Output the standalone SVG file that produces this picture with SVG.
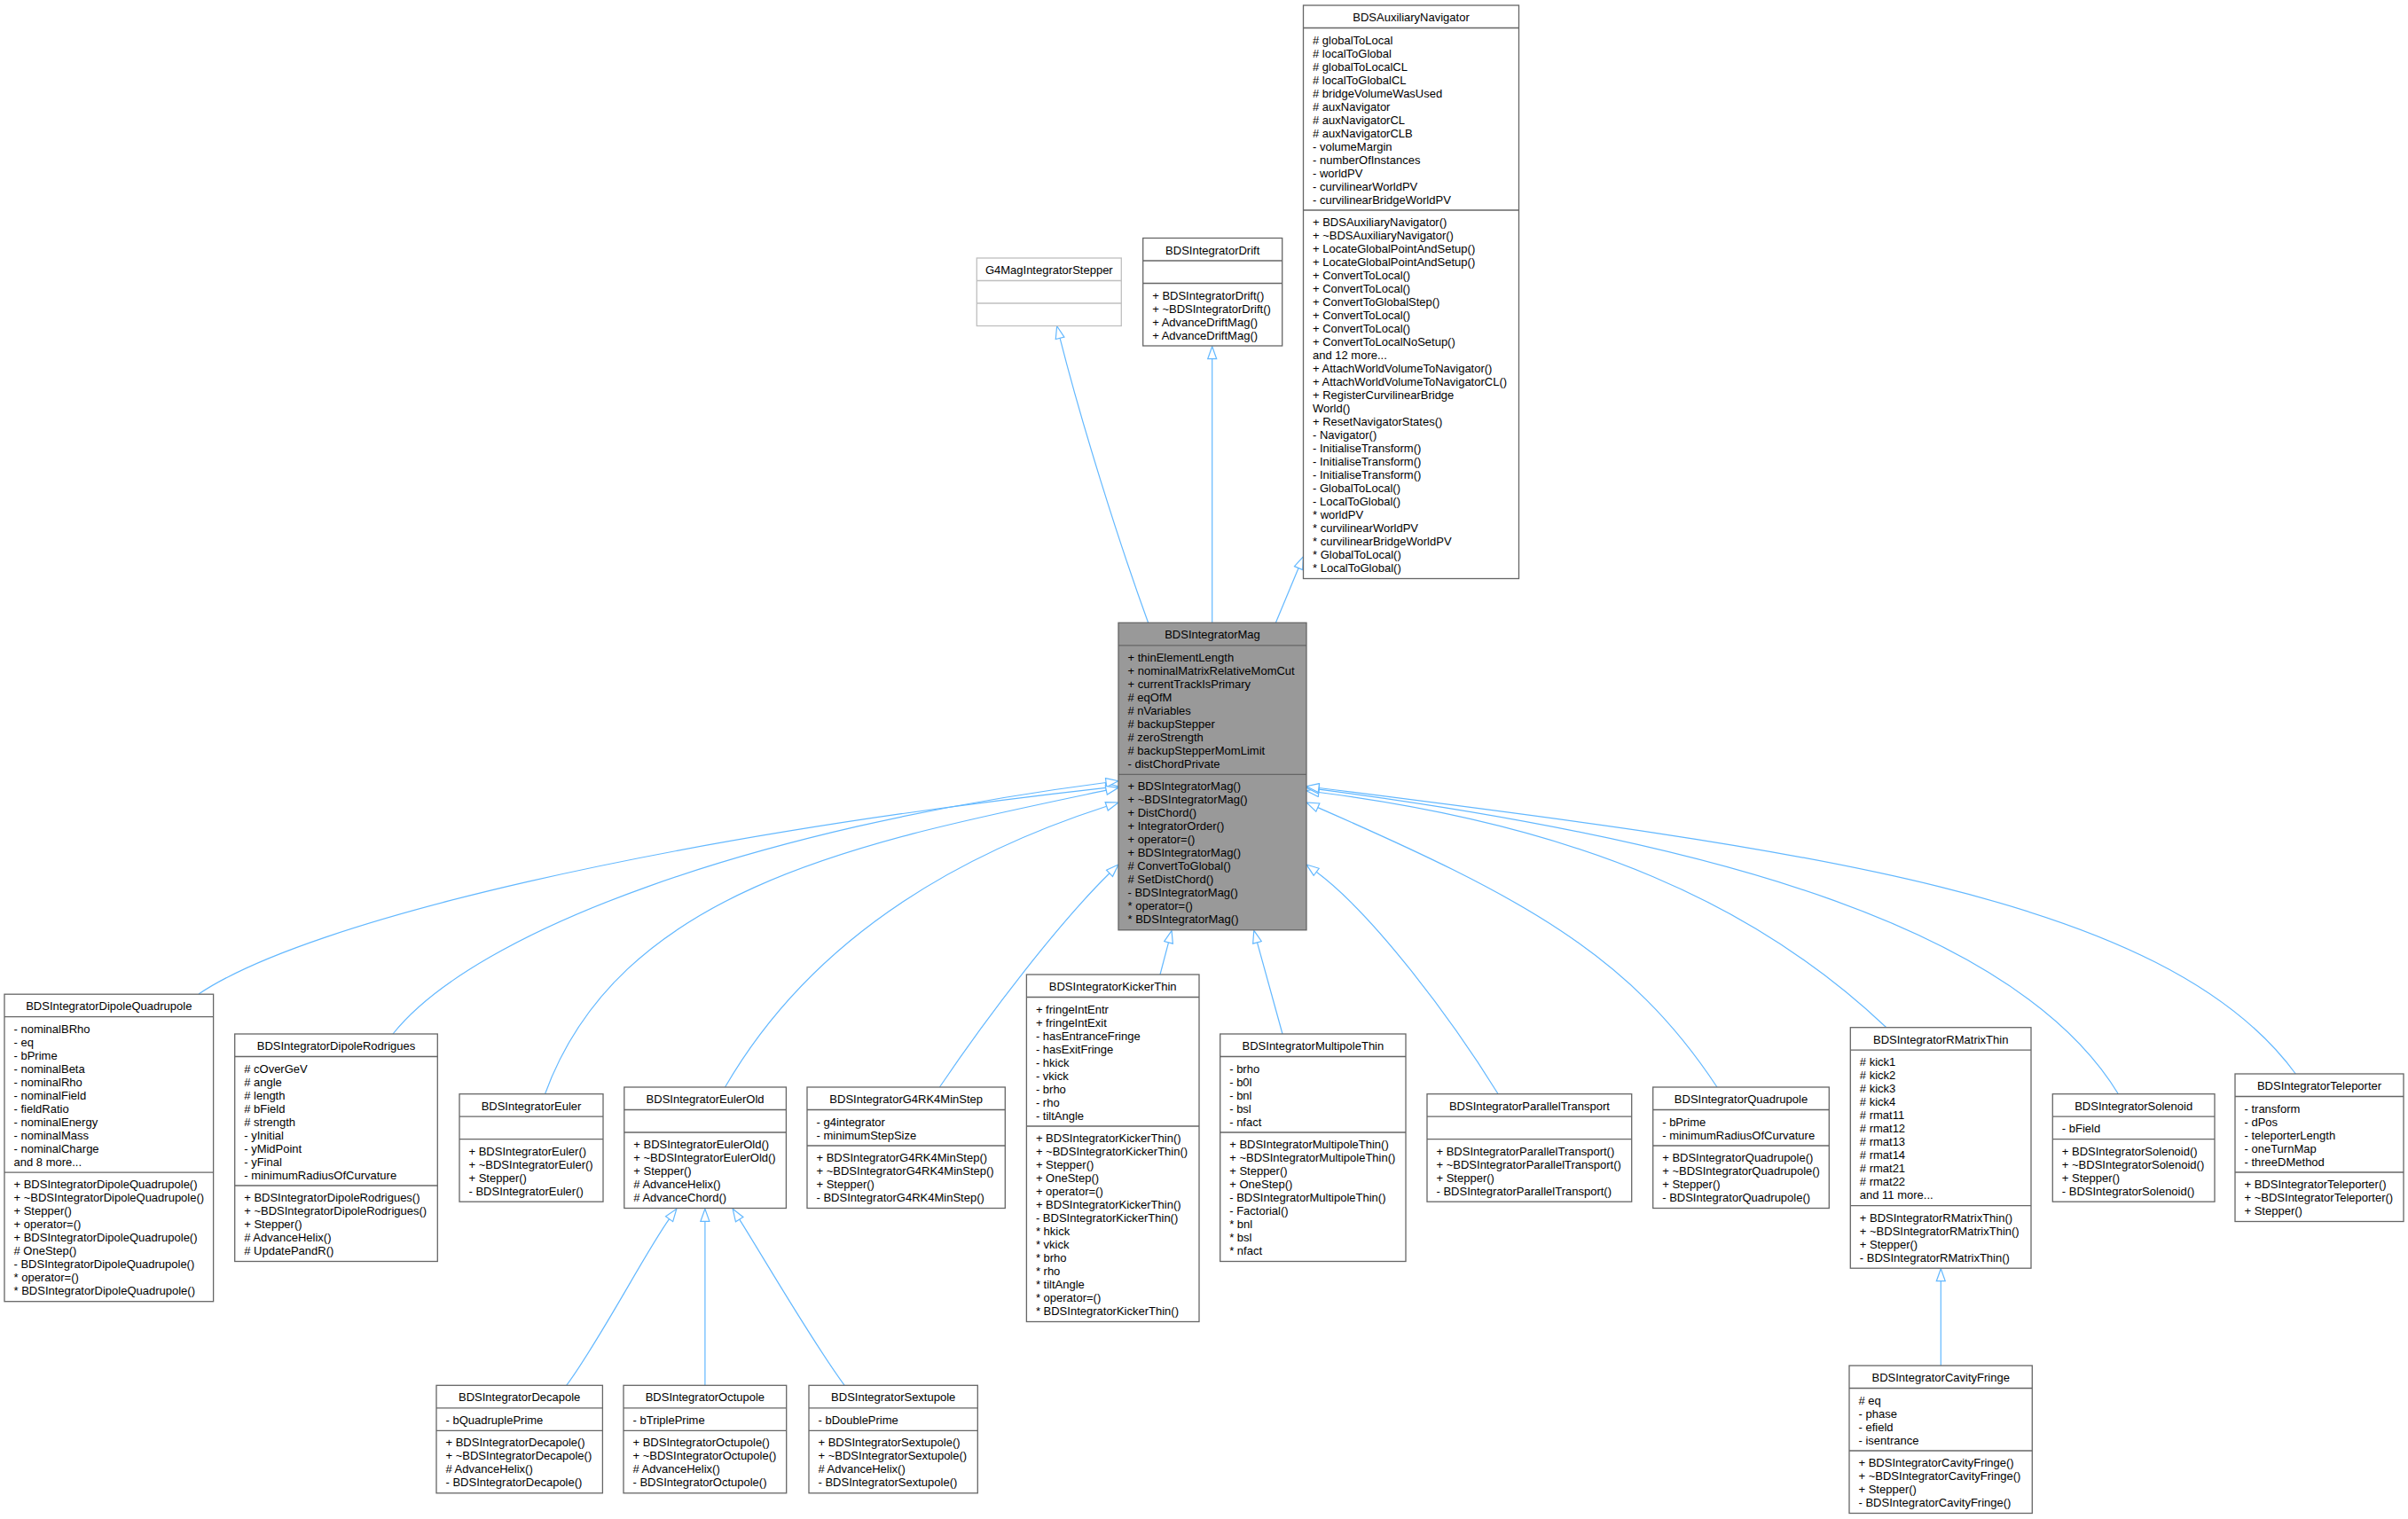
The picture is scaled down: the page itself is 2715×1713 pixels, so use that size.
<svg xmlns="http://www.w3.org/2000/svg" width="2715" height="1713" viewBox="0 0 2715 1713">
<style>
.b{fill:#ffffff;stroke:#666666;stroke-width:1.3}
.bm{fill:#999999;stroke:#666666;stroke-width:1.3}
.bu{fill:#ffffff;stroke:#bfbfbf;stroke-width:1.3}
.s{stroke:#666666;stroke-width:1.3}
.su{stroke:#bfbfbf;stroke-width:1.3}
text{font-family:"Liberation Sans",Arial,Helvetica,sans-serif;font-size:13px;fill:#000000}
.h{text-anchor:middle}
.e{fill:none;stroke:#63b8ff;stroke-width:1.2;marker-end:url(#inh)}
</style>
<defs>
<marker id="inh" viewBox="-1 -6 17 12" refX="0" refY="0" markerWidth="17" markerHeight="12" orient="auto" markerUnits="userSpaceOnUse">
<path d="M0,-5 L14,0 L0,5 Z" fill="#ffffff" stroke="#63b8ff" stroke-width="1.2"/>
</marker>
</defs>
<rect x="0" y="0" width="2715" height="1713" fill="#ffffff"/>

<g id="connectors">
<path class="e" d="M1294.6,702.3 C1260.4,608.3 1219.7,478.2 1195.1,381.3"/>
<path class="e" d="M1366.7,702.3 L1366.7,404.7"/>
<path class="e" d="M1438.4,702.3 L1464.1,640.6"/>
<path class="e" d="M224,1121 C348.5,1037 750,944.3 1247,888.3"/>
<path class="e" d="M443,1166 C536,1049 850,933.7 1247.1,882.5"/>
<path class="e" d="M614.5,1233.7 C700,1000 973,948.9 1247.3,891.2"/>
<path class="e" d="M817.5,1226 C907.5,1071 1057.5,970.9 1247.7,909.3"/>
<path class="e" d="M1059.4,1226 C1115.4,1143 1194,1040.9 1251,984.8"/>
<path class="e" d="M1308,1099 L1317.5,1062.9"/>
<path class="e" d="M1446,1166 L1417.5,1062.8"/>
<path class="e" d="M1689,1233.5 C1636.3,1148.5 1548.4,1031 1484.2,983.3"/>
<path class="e" d="M1936,1226 C1837,1075.5 1714.8,1010.9 1485.8,910.6"/>
<path class="e" d="M2126.6,1158.5 C1981.4,1020.9 1784.5,931.6 1486.9,893.5"/>
<path class="e" d="M2388.4,1233.7 C2274,1045.8 1932.4,948.6 1486.9,890.1"/>
<path class="e" d="M2588.3,1211 C2440.8,1009.3 2031.4,957.3 1486.9,888.5"/>
<path class="e" d="M638.7,1562.3 C674.7,1514.3 728.3,1411.2 754.6,1374.7"/>
<path class="e" d="M794.9,1562.3 L794.9,1377.3"/>
<path class="e" d="M952.2,1562.3 C915,1512 857.8,1413 833.7,1375.1"/>
<path class="e" d="M2188.3,1540 L2188.3,1444.7"/>
</g>

<g id="G4MagIntegratorStepper">
<rect class="bu" x="1101.3" y="291" width="163" height="76.5"/>
<line class="su" x1="1101.3" y1="316.5" x2="1264.3" y2="316.5"/>
<line class="su" x1="1101.3" y1="342" x2="1264.3" y2="342"/>
<text class="h" x="1182.8" y="309">G4MagIntegratorStepper</text>
</g>

<g id="BDSIntegratorDrift">
<rect class="b" x="1288.7" y="268.5" width="157" height="121.5"/>
<line class="s" x1="1288.7" y1="294" x2="1445.7" y2="294"/>
<line class="s" x1="1288.7" y1="319.5" x2="1445.7" y2="319.5"/>
<text class="h" x="1367.2" y="286.5">BDSIntegratorDrift</text>
<text x="1299.2" y="337.5"><tspan x="1299.2" y="337.5">+ BDSIntegratorDrift()</tspan><tspan x="1299.2" dy="15">+ ~BDSIntegratorDrift()</tspan><tspan x="1299.2" dy="15">+ AdvanceDriftMag()</tspan><tspan x="1299.2" dy="15">+ AdvanceDriftMag()</tspan></text>
</g>

<g id="BDSAuxiliaryNavigator">
<rect class="b" x="1469.5" y="6" width="243" height="646.5"/>
<line class="s" x1="1469.5" y1="31.5" x2="1712.5" y2="31.5"/>
<line class="s" x1="1469.5" y1="237" x2="1712.5" y2="237"/>
<text class="h" x="1591" y="24">BDSAuxiliaryNavigator</text>
<text x="1480" y="49.5"><tspan x="1480" y="49.5"># globalToLocal</tspan><tspan x="1480" dy="15"># localToGlobal</tspan><tspan x="1480" dy="15"># globalToLocalCL</tspan><tspan x="1480" dy="15"># localToGlobalCL</tspan><tspan x="1480" dy="15"># bridgeVolumeWasUsed</tspan><tspan x="1480" dy="15"># auxNavigator</tspan><tspan x="1480" dy="15"># auxNavigatorCL</tspan><tspan x="1480" dy="15"># auxNavigatorCLB</tspan><tspan x="1480" dy="15">- volumeMargin</tspan><tspan x="1480" dy="15">- numberOfInstances</tspan><tspan x="1480" dy="15">- worldPV</tspan><tspan x="1480" dy="15">- curvilinearWorldPV</tspan><tspan x="1480" dy="15">- curvilinearBridgeWorldPV</tspan></text>
<text x="1480" y="255"><tspan x="1480" y="255">+ BDSAuxiliaryNavigator()</tspan><tspan x="1480" dy="15">+ ~BDSAuxiliaryNavigator()</tspan><tspan x="1480" dy="15">+ LocateGlobalPointAndSetup()</tspan><tspan x="1480" dy="15">+ LocateGlobalPointAndSetup()</tspan><tspan x="1480" dy="15">+ ConvertToLocal()</tspan><tspan x="1480" dy="15">+ ConvertToLocal()</tspan><tspan x="1480" dy="15">+ ConvertToGlobalStep()</tspan><tspan x="1480" dy="15">+ ConvertToLocal()</tspan><tspan x="1480" dy="15">+ ConvertToLocal()</tspan><tspan x="1480" dy="15">+ ConvertToLocalNoSetup()</tspan><tspan x="1480" dy="15">and 12 more...</tspan><tspan x="1480" dy="15">+ AttachWorldVolumeToNavigator()</tspan><tspan x="1480" dy="15">+ AttachWorldVolumeToNavigatorCL()</tspan><tspan x="1480" dy="15">+ RegisterCurvilinearBridge</tspan><tspan x="1480" dy="15">World()</tspan><tspan x="1480" dy="15">+ ResetNavigatorStates()</tspan><tspan x="1480" dy="15">- Navigator()</tspan><tspan x="1480" dy="15">- InitialiseTransform()</tspan><tspan x="1480" dy="15">- InitialiseTransform()</tspan><tspan x="1480" dy="15">- InitialiseTransform()</tspan><tspan x="1480" dy="15">- GlobalToLocal()</tspan><tspan x="1480" dy="15">- LocalToGlobal()</tspan><tspan x="1480" dy="15">* worldPV</tspan><tspan x="1480" dy="15">* curvilinearWorldPV</tspan><tspan x="1480" dy="15">* curvilinearBridgeWorldPV</tspan><tspan x="1480" dy="15">* GlobalToLocal()</tspan><tspan x="1480" dy="15">* LocalToGlobal()</tspan></text>
</g>

<g id="BDSIntegratorMag">
<rect class="bm" x="1261" y="702.3" width="212" height="346.5"/>
<line class="s" x1="1261" y1="727.8" x2="1473" y2="727.8"/>
<line class="s" x1="1261" y1="873.3" x2="1473" y2="873.3"/>
<text class="h" x="1367" y="720.3">BDSIntegratorMag</text>
<text x="1271.5" y="745.8"><tspan x="1271.5" y="745.8">+ thinElementLength</tspan><tspan x="1271.5" dy="15">+ nominalMatrixRelativeMomCut</tspan><tspan x="1271.5" dy="15">+ currentTrackIsPrimary</tspan><tspan x="1271.5" dy="15"># eqOfM</tspan><tspan x="1271.5" dy="15"># nVariables</tspan><tspan x="1271.5" dy="15"># backupStepper</tspan><tspan x="1271.5" dy="15"># zeroStrength</tspan><tspan x="1271.5" dy="15"># backupStepperMomLimit</tspan><tspan x="1271.5" dy="15">- distChordPrivate</tspan></text>
<text x="1271.5" y="891.3"><tspan x="1271.5" y="891.3">+ BDSIntegratorMag()</tspan><tspan x="1271.5" dy="15">+ ~BDSIntegratorMag()</tspan><tspan x="1271.5" dy="15">+ DistChord()</tspan><tspan x="1271.5" dy="15">+ IntegratorOrder()</tspan><tspan x="1271.5" dy="15">+ operator=()</tspan><tspan x="1271.5" dy="15">+ BDSIntegratorMag()</tspan><tspan x="1271.5" dy="15"># ConvertToGlobal()</tspan><tspan x="1271.5" dy="15"># SetDistChord()</tspan><tspan x="1271.5" dy="15">- BDSIntegratorMag()</tspan><tspan x="1271.5" dy="15">* operator=()</tspan><tspan x="1271.5" dy="15">* BDSIntegratorMag()</tspan></text>
</g>

<g id="BDSIntegratorDipoleQuadrupole">
<rect class="b" x="5" y="1121.2" width="235.6" height="346.5"/>
<line class="s" x1="5" y1="1146.7" x2="240.6" y2="1146.7"/>
<line class="s" x1="5" y1="1322.2" x2="240.6" y2="1322.2"/>
<text class="h" x="122.8" y="1139.2">BDSIntegratorDipoleQuadrupole</text>
<text x="15.5" y="1164.7"><tspan x="15.5" y="1164.7">- nominalBRho</tspan><tspan x="15.5" dy="15">- eq</tspan><tspan x="15.5" dy="15">- bPrime</tspan><tspan x="15.5" dy="15">- nominalBeta</tspan><tspan x="15.5" dy="15">- nominalRho</tspan><tspan x="15.5" dy="15">- nominalField</tspan><tspan x="15.5" dy="15">- fieldRatio</tspan><tspan x="15.5" dy="15">- nominalEnergy</tspan><tspan x="15.5" dy="15">- nominalMass</tspan><tspan x="15.5" dy="15">- nominalCharge</tspan><tspan x="15.5" dy="15">and 8 more...</tspan></text>
<text x="15.5" y="1340.2"><tspan x="15.5" y="1340.2">+ BDSIntegratorDipoleQuadrupole()</tspan><tspan x="15.5" dy="15">+ ~BDSIntegratorDipoleQuadrupole()</tspan><tspan x="15.5" dy="15">+ Stepper()</tspan><tspan x="15.5" dy="15">+ operator=()</tspan><tspan x="15.5" dy="15">+ BDSIntegratorDipoleQuadrupole()</tspan><tspan x="15.5" dy="15"># OneStep()</tspan><tspan x="15.5" dy="15">- BDSIntegratorDipoleQuadrupole()</tspan><tspan x="15.5" dy="15">* operator=()</tspan><tspan x="15.5" dy="15">* BDSIntegratorDipoleQuadrupole()</tspan></text>
</g>

<g id="BDSIntegratorDipoleRodrigues">
<rect class="b" x="264.7" y="1166" width="228.6" height="256.5"/>
<line class="s" x1="264.7" y1="1191.5" x2="493.3" y2="1191.5"/>
<line class="s" x1="264.7" y1="1337" x2="493.3" y2="1337"/>
<text class="h" x="379" y="1184">BDSIntegratorDipoleRodrigues</text>
<text x="275.2" y="1209.5"><tspan x="275.2" y="1209.5"># cOverGeV</tspan><tspan x="275.2" dy="15"># angle</tspan><tspan x="275.2" dy="15"># length</tspan><tspan x="275.2" dy="15"># bField</tspan><tspan x="275.2" dy="15"># strength</tspan><tspan x="275.2" dy="15">- yInitial</tspan><tspan x="275.2" dy="15">- yMidPoint</tspan><tspan x="275.2" dy="15">- yFinal</tspan><tspan x="275.2" dy="15">- minimumRadiusOfCurvature</tspan></text>
<text x="275.2" y="1355"><tspan x="275.2" y="1355">+ BDSIntegratorDipoleRodrigues()</tspan><tspan x="275.2" dy="15">+ ~BDSIntegratorDipoleRodrigues()</tspan><tspan x="275.2" dy="15">+ Stepper()</tspan><tspan x="275.2" dy="15"># AdvanceHelix()</tspan><tspan x="275.2" dy="15"># UpdatePandR()</tspan></text>
</g>

<g id="BDSIntegratorEuler">
<rect class="b" x="518" y="1233.7" width="162" height="121.5"/>
<line class="s" x1="518" y1="1259.2" x2="680" y2="1259.2"/>
<line class="s" x1="518" y1="1284.7" x2="680" y2="1284.7"/>
<text class="h" x="599" y="1251.7">BDSIntegratorEuler</text>
<text x="528.5" y="1302.7"><tspan x="528.5" y="1302.7">+ BDSIntegratorEuler()</tspan><tspan x="528.5" dy="15">+ ~BDSIntegratorEuler()</tspan><tspan x="528.5" dy="15">+ Stepper()</tspan><tspan x="528.5" dy="15">- BDSIntegratorEuler()</tspan></text>
</g>

<g id="BDSIntegratorEulerOld">
<rect class="b" x="703.8" y="1226" width="182.6" height="136.5"/>
<line class="s" x1="703.8" y1="1251.5" x2="886.4" y2="1251.5"/>
<line class="s" x1="703.8" y1="1277" x2="886.4" y2="1277"/>
<text class="h" x="795.1" y="1244">BDSIntegratorEulerOld</text>
<text x="714.3" y="1295"><tspan x="714.3" y="1295">+ BDSIntegratorEulerOld()</tspan><tspan x="714.3" dy="15">+ ~BDSIntegratorEulerOld()</tspan><tspan x="714.3" dy="15">+ Stepper()</tspan><tspan x="714.3" dy="15"># AdvanceHelix()</tspan><tspan x="714.3" dy="15"># AdvanceChord()</tspan></text>
</g>

<g id="BDSIntegratorG4RK4MinStep">
<rect class="b" x="910" y="1226" width="223.3" height="136.5"/>
<line class="s" x1="910" y1="1251.5" x2="1133.3" y2="1251.5"/>
<line class="s" x1="910" y1="1292" x2="1133.3" y2="1292"/>
<text class="h" x="1021.7" y="1244">BDSIntegratorG4RK4MinStep</text>
<text x="920.5" y="1269.5"><tspan x="920.5" y="1269.5">- g4integrator</tspan><tspan x="920.5" dy="15">- minimumStepSize</tspan></text>
<text x="920.5" y="1310"><tspan x="920.5" y="1310">+ BDSIntegratorG4RK4MinStep()</tspan><tspan x="920.5" dy="15">+ ~BDSIntegratorG4RK4MinStep()</tspan><tspan x="920.5" dy="15">+ Stepper()</tspan><tspan x="920.5" dy="15">- BDSIntegratorG4RK4MinStep()</tspan></text>
</g>

<g id="BDSIntegratorKickerThin">
<rect class="b" x="1157.4" y="1099" width="194.6" height="391.5"/>
<line class="s" x1="1157.4" y1="1124.5" x2="1352" y2="1124.5"/>
<line class="s" x1="1157.4" y1="1270" x2="1352" y2="1270"/>
<text class="h" x="1254.7" y="1117">BDSIntegratorKickerThin</text>
<text x="1167.9" y="1142.5"><tspan x="1167.9" y="1142.5">+ fringeIntEntr</tspan><tspan x="1167.9" dy="15">+ fringeIntExit</tspan><tspan x="1167.9" dy="15">- hasEntranceFringe</tspan><tspan x="1167.9" dy="15">- hasExitFringe</tspan><tspan x="1167.9" dy="15">- hkick</tspan><tspan x="1167.9" dy="15">- vkick</tspan><tspan x="1167.9" dy="15">- brho</tspan><tspan x="1167.9" dy="15">- rho</tspan><tspan x="1167.9" dy="15">- tiltAngle</tspan></text>
<text x="1167.9" y="1288"><tspan x="1167.9" y="1288">+ BDSIntegratorKickerThin()</tspan><tspan x="1167.9" dy="15">+ ~BDSIntegratorKickerThin()</tspan><tspan x="1167.9" dy="15">+ Stepper()</tspan><tspan x="1167.9" dy="15">+ OneStep()</tspan><tspan x="1167.9" dy="15">+ operator=()</tspan><tspan x="1167.9" dy="15">+ BDSIntegratorKickerThin()</tspan><tspan x="1167.9" dy="15">- BDSIntegratorKickerThin()</tspan><tspan x="1167.9" dy="15">* hkick</tspan><tspan x="1167.9" dy="15">* vkick</tspan><tspan x="1167.9" dy="15">* brho</tspan><tspan x="1167.9" dy="15">* rho</tspan><tspan x="1167.9" dy="15">* tiltAngle</tspan><tspan x="1167.9" dy="15">* operator=()</tspan><tspan x="1167.9" dy="15">* BDSIntegratorKickerThin()</tspan></text>
</g>

<g id="BDSIntegratorMultipoleThin">
<rect class="b" x="1375.7" y="1166" width="209.3" height="256.5"/>
<line class="s" x1="1375.7" y1="1191.5" x2="1585" y2="1191.5"/>
<line class="s" x1="1375.7" y1="1277" x2="1585" y2="1277"/>
<text class="h" x="1480.4" y="1184">BDSIntegratorMultipoleThin</text>
<text x="1386.2" y="1209.5"><tspan x="1386.2" y="1209.5">- brho</tspan><tspan x="1386.2" dy="15">- b0l</tspan><tspan x="1386.2" dy="15">- bnl</tspan><tspan x="1386.2" dy="15">- bsl</tspan><tspan x="1386.2" dy="15">- nfact</tspan></text>
<text x="1386.2" y="1295"><tspan x="1386.2" y="1295">+ BDSIntegratorMultipoleThin()</tspan><tspan x="1386.2" dy="15">+ ~BDSIntegratorMultipoleThin()</tspan><tspan x="1386.2" dy="15">+ Stepper()</tspan><tspan x="1386.2" dy="15">+ OneStep()</tspan><tspan x="1386.2" dy="15">- BDSIntegratorMultipoleThin()</tspan><tspan x="1386.2" dy="15">- Factorial()</tspan><tspan x="1386.2" dy="15">* bnl</tspan><tspan x="1386.2" dy="15">* bsl</tspan><tspan x="1386.2" dy="15">* nfact</tspan></text>
</g>

<g id="BDSIntegratorParallelTransport">
<rect class="b" x="1609" y="1233.7" width="230.7" height="121.5"/>
<line class="s" x1="1609" y1="1259.2" x2="1839.7" y2="1259.2"/>
<line class="s" x1="1609" y1="1284.7" x2="1839.7" y2="1284.7"/>
<text class="h" x="1724.4" y="1251.7">BDSIntegratorParallelTransport</text>
<text x="1619.5" y="1302.7"><tspan x="1619.5" y="1302.7">+ BDSIntegratorParallelTransport()</tspan><tspan x="1619.5" dy="15">+ ~BDSIntegratorParallelTransport()</tspan><tspan x="1619.5" dy="15">+ Stepper()</tspan><tspan x="1619.5" dy="15">- BDSIntegratorParallelTransport()</tspan></text>
</g>

<g id="BDSIntegratorQuadrupole">
<rect class="b" x="1863.7" y="1226" width="198.6" height="136.5"/>
<line class="s" x1="1863.7" y1="1251.5" x2="2062.3" y2="1251.5"/>
<line class="s" x1="1863.7" y1="1292" x2="2062.3" y2="1292"/>
<text class="h" x="1963" y="1244">BDSIntegratorQuadrupole</text>
<text x="1874.2" y="1269.5"><tspan x="1874.2" y="1269.5">- bPrime</tspan><tspan x="1874.2" dy="15">- minimumRadiusOfCurvature</tspan></text>
<text x="1874.2" y="1310"><tspan x="1874.2" y="1310">+ BDSIntegratorQuadrupole()</tspan><tspan x="1874.2" dy="15">+ ~BDSIntegratorQuadrupole()</tspan><tspan x="1874.2" dy="15">+ Stepper()</tspan><tspan x="1874.2" dy="15">- BDSIntegratorQuadrupole()</tspan></text>
</g>

<g id="BDSIntegratorRMatrixThin">
<rect class="b" x="2086.3" y="1158.7" width="203.7" height="271.5"/>
<line class="s" x1="2086.3" y1="1184.2" x2="2290" y2="1184.2"/>
<line class="s" x1="2086.3" y1="1359.7" x2="2290" y2="1359.7"/>
<text class="h" x="2188.2" y="1176.7">BDSIntegratorRMatrixThin</text>
<text x="2096.8" y="1202.2"><tspan x="2096.8" y="1202.2"># kick1</tspan><tspan x="2096.8" dy="15"># kick2</tspan><tspan x="2096.8" dy="15"># kick3</tspan><tspan x="2096.8" dy="15"># kick4</tspan><tspan x="2096.8" dy="15"># rmat11</tspan><tspan x="2096.8" dy="15"># rmat12</tspan><tspan x="2096.8" dy="15"># rmat13</tspan><tspan x="2096.8" dy="15"># rmat14</tspan><tspan x="2096.8" dy="15"># rmat21</tspan><tspan x="2096.8" dy="15"># rmat22</tspan><tspan x="2096.8" dy="15">and 11 more...</tspan></text>
<text x="2096.8" y="1377.7"><tspan x="2096.8" y="1377.7">+ BDSIntegratorRMatrixThin()</tspan><tspan x="2096.8" dy="15">+ ~BDSIntegratorRMatrixThin()</tspan><tspan x="2096.8" dy="15">+ Stepper()</tspan><tspan x="2096.8" dy="15">- BDSIntegratorRMatrixThin()</tspan></text>
</g>

<g id="BDSIntegratorSolenoid">
<rect class="b" x="2314.3" y="1233.7" width="182.7" height="121.5"/>
<line class="s" x1="2314.3" y1="1259.2" x2="2497" y2="1259.2"/>
<line class="s" x1="2314.3" y1="1284.7" x2="2497" y2="1284.7"/>
<text class="h" x="2405.7" y="1251.7">BDSIntegratorSolenoid</text>
<text x="2324.8" y="1277.2">- bField</text>
<text x="2324.8" y="1302.7"><tspan x="2324.8" y="1302.7">+ BDSIntegratorSolenoid()</tspan><tspan x="2324.8" dy="15">+ ~BDSIntegratorSolenoid()</tspan><tspan x="2324.8" dy="15">+ Stepper()</tspan><tspan x="2324.8" dy="15">- BDSIntegratorSolenoid()</tspan></text>
</g>

<g id="BDSIntegratorTeleporter">
<rect class="b" x="2520" y="1211" width="190" height="166.5"/>
<line class="s" x1="2520" y1="1236.5" x2="2710" y2="1236.5"/>
<line class="s" x1="2520" y1="1322" x2="2710" y2="1322"/>
<text class="h" x="2615" y="1229">BDSIntegratorTeleporter</text>
<text x="2530.5" y="1254.5"><tspan x="2530.5" y="1254.5">- transform</tspan><tspan x="2530.5" dy="15">- dPos</tspan><tspan x="2530.5" dy="15">- teleporterLength</tspan><tspan x="2530.5" dy="15">- oneTurnMap</tspan><tspan x="2530.5" dy="15">- threeDMethod</tspan></text>
<text x="2530.5" y="1340"><tspan x="2530.5" y="1340">+ BDSIntegratorTeleporter()</tspan><tspan x="2530.5" dy="15">+ ~BDSIntegratorTeleporter()</tspan><tspan x="2530.5" dy="15">+ Stepper()</tspan></text>
</g>

<g id="BDSIntegratorDecapole">
<rect class="b" x="492" y="1562.3" width="187.4" height="121.5"/>
<line class="s" x1="492" y1="1587.8" x2="679.4" y2="1587.8"/>
<line class="s" x1="492" y1="1613.3" x2="679.4" y2="1613.3"/>
<text class="h" x="585.7" y="1580.3">BDSIntegratorDecapole</text>
<text x="502.5" y="1605.8">- bQuadruplePrime</text>
<text x="502.5" y="1631.3"><tspan x="502.5" y="1631.3">+ BDSIntegratorDecapole()</tspan><tspan x="502.5" dy="15">+ ~BDSIntegratorDecapole()</tspan><tspan x="502.5" dy="15"># AdvanceHelix()</tspan><tspan x="502.5" dy="15">- BDSIntegratorDecapole()</tspan></text>
</g>

<g id="BDSIntegratorOctupole">
<rect class="b" x="703" y="1562.3" width="183.7" height="121.5"/>
<line class="s" x1="703" y1="1587.8" x2="886.7" y2="1587.8"/>
<line class="s" x1="703" y1="1613.3" x2="886.7" y2="1613.3"/>
<text class="h" x="794.9" y="1580.3">BDSIntegratorOctupole</text>
<text x="713.5" y="1605.8">- bTriplePrime</text>
<text x="713.5" y="1631.3"><tspan x="713.5" y="1631.3">+ BDSIntegratorOctupole()</tspan><tspan x="713.5" dy="15">+ ~BDSIntegratorOctupole()</tspan><tspan x="713.5" dy="15"># AdvanceHelix()</tspan><tspan x="713.5" dy="15">- BDSIntegratorOctupole()</tspan></text>
</g>

<g id="BDSIntegratorSextupole">
<rect class="b" x="912" y="1562.3" width="190.3" height="121.5"/>
<line class="s" x1="912" y1="1587.8" x2="1102.3" y2="1587.8"/>
<line class="s" x1="912" y1="1613.3" x2="1102.3" y2="1613.3"/>
<text class="h" x="1007.2" y="1580.3">BDSIntegratorSextupole</text>
<text x="922.5" y="1605.8">- bDoublePrime</text>
<text x="922.5" y="1631.3"><tspan x="922.5" y="1631.3">+ BDSIntegratorSextupole()</tspan><tspan x="922.5" dy="15">+ ~BDSIntegratorSextupole()</tspan><tspan x="922.5" dy="15"># AdvanceHelix()</tspan><tspan x="922.5" dy="15">- BDSIntegratorSextupole()</tspan></text>
</g>

<g id="BDSIntegratorCavityFringe">
<rect class="b" x="2085" y="1540" width="206.3" height="166.5"/>
<line class="s" x1="2085" y1="1565.5" x2="2291.3" y2="1565.5"/>
<line class="s" x1="2085" y1="1636" x2="2291.3" y2="1636"/>
<text class="h" x="2188.2" y="1558">BDSIntegratorCavityFringe</text>
<text x="2095.5" y="1583.5"><tspan x="2095.5" y="1583.5"># eq</tspan><tspan x="2095.5" dy="15">- phase</tspan><tspan x="2095.5" dy="15">- efield</tspan><tspan x="2095.5" dy="15">- isentrance</tspan></text>
<text x="2095.5" y="1654"><tspan x="2095.5" y="1654">+ BDSIntegratorCavityFringe()</tspan><tspan x="2095.5" dy="15">+ ~BDSIntegratorCavityFringe()</tspan><tspan x="2095.5" dy="15">+ Stepper()</tspan><tspan x="2095.5" dy="15">- BDSIntegratorCavityFringe()</tspan></text>
</g>
</svg>
